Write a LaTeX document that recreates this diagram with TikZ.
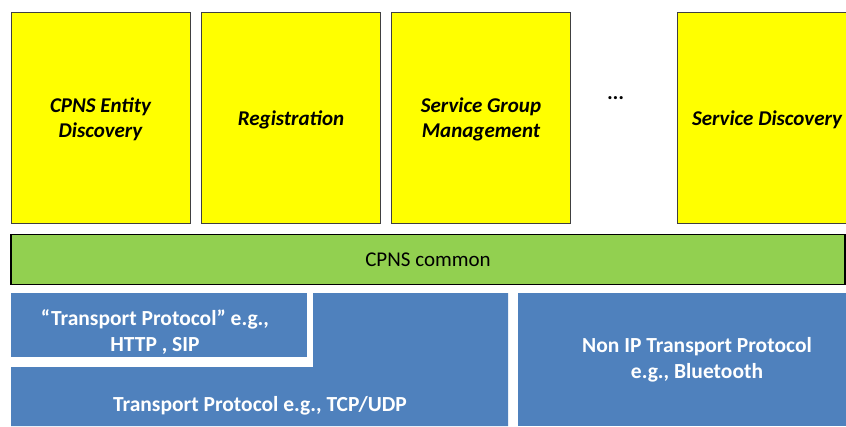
\documentclass[tikz,border=0pt]{standalone}
\usepackage{fontspec}
\setmainfont{Carlito}
\definecolor{ylw}{HTML}{FFFF00}
\definecolor{grn}{HTML}{92D050}
\definecolor{blu}{HTML}{4F81BD}
\definecolor{edge}{HTML}{404040}
\begin{document}
\begin{tikzpicture}[x=1pt,y=-1pt,
  ybox/.style={draw=edge,fill=ylw,line width=1pt,inner sep=0pt,outer sep=0pt,minimum width=179pt,minimum height=211pt},
  ytext/.style={align=center,font=\bfseries\itshape\fontsize{21}{25}\selectfont},
  btext/.style={align=center,text=white,font=\bfseries\fontsize{21.5}{26}\selectfont}]
\useasboundingbox (0,0) rectangle (846,426);
% yellow service boxes
\node[ybox] (b1) at (100.5,117.5) {};
\node[ybox] (b2) at (291,117.5) {};
\node[ybox] (b3) at (481,117.5) {};
\node[ytext] (t1) at (100.5,119.5) {CPNS Entity\\Discovery};
\node[ytext] (t2) at (291,119.5) {Registration};
\node[ytext] (t3) at (481,119.5) {Service Group\\Management};
\node[ytext] (dots) at (616,98) {...};
\fill[ylw] (677,12) rectangle (846,223);
\draw[edge,line width=1pt] (847,12) -- (677,12) -- (677,223) -- (847,223);
\node[ytext] (b4) at (767,120) {Service Discovery};
% green common
\node[draw=black,fill=grn,line width=1.5pt,inner sep=0pt,minimum width=834pt,minimum height=50pt,font=\fontsize{21}{24}\selectfont] (common) at (428,259.5) {CPNS common};
% blue transport
\node[fill=blu,inner sep=0pt,outer sep=0pt,minimum width=296pt,minimum height=64pt] (http) at (159,325) {};
\node[btext] (httpt) at (155,332) {“Transport Protocol” e.g.,\\HTTP , SIP};
\fill[blu] (313,293) -- (508,293) -- (508,426) -- (11,426) -- (11,367) -- (313,367) -- cycle;
\node[btext] (tcp) at (260,406) {Transport Protocol e.g., TCP/UDP};
\fill[blu] (518,293) rectangle (846,426);
\node[btext] (nonip) at (697,360) {Non IP Transport Protocol\\e.g., Bluetooth};
\end{tikzpicture}
\end{document}
